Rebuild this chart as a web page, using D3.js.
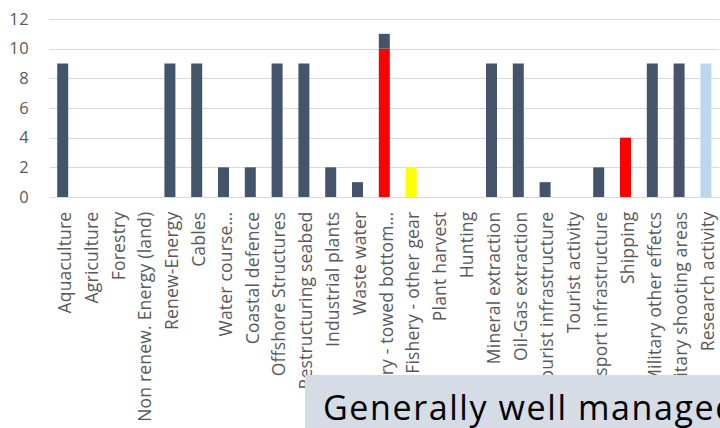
<!DOCTYPE html>
<html>
<head>
<meta charset="utf-8">
<script src="https://cdn.jsdelivr.net/npm/d3@7"></script>
<style>
  html, body { margin: 0; padding: 0; background: #fff; }
  svg { display: block; }
</style>
</head>
<body>
<svg id="chart" width="720" height="428"></svg>
<script>
// Pressure categories along the x axis
const categories = [
  "Aquaculture", "Agriculture", "Forestry", "Non renew. Energy (land)",
  "Renew-Energy", "Cables", "Water course…", "Coastal defence",
  "Offshore Structures", "Restructuring seabed", "Industrial plants",
  "Waste water", "Fishery - towed bottom…", "Fishery - other gear",
  "Plant harvest", "Hunting", "Mineral extraction", "Oil-Gas extraction",
  "Tourist infrastructure", "Tourist activity", "Transport infrastructure",
  "Shipping", "Military other effetcs", "Military shooting areas",
  "Research activity"
];

// Stacked series, bottom to top
const redValues    = [0,0,0,0,0,0,0,0,0,0,0,0,10,0,0,0,0,0,0,0,0,4,0,0,0];
const yellowValues = [0,0,0,0,0,0,0,0,0,0,0,0,0,2,0,0,0,0,0,0,0,0,0,0,0];
const lightValues  = [0,0,0,0,0,0,0,0,0,0,0,0,0,0,0,0,0,0,0,0,0,0,0,0,9];
const darkValues   = [9,0,0,0,9,9,2,2,9,9,2,1,1,0,0,0,9,9,1,0,2,0,9,9,0];

const yTicks = [0, 2, 4, 6, 8, 10, 12];
const boxText = "Generally well managed";

const seriesKeys = ["red", "yellow", "light", "dark"];
const seriesColor = { red: "#FF0000", yellow: "#FFFF00", light: "#BDD7EE", dark: "#44546A" };

const rows = categories.map((c, i) => ({
  cat: c, red: redValues[i], yellow: yellowValues[i], light: lightValues[i], dark: darkValues[i]
}));

const svg = d3.select("#chart");
const plotLeft = 49.3, plotRight = 719.3, plotTop = 19, plotBottom = 197;

const x = d3.scaleBand().domain(categories).range([plotLeft, plotRight]).paddingInner(0.59).paddingOuter(0.295);
const y = d3.scaleLinear().domain([0, 12]).range([plotBottom, plotTop]);

// Gridlines
svg.append("g").selectAll("line").data(yTicks).join("line")
  .attr("x1", plotLeft).attr("x2", plotRight)
  .attr("y1", d => Math.round(y(d)) + 0.5).attr("y2", d => Math.round(y(d)) + 0.5)
  .attr("stroke", "#D9D9D9").attr("stroke-width", 1);

// Y axis labels
const yAxis = d3.axisLeft(y).tickValues(yTicks).tickSize(0).tickPadding(0);
const gy = svg.append("g").attr("transform", `translate(${plotLeft - 20},0)`).call(yAxis);
gy.select(".domain").remove();
gy.selectAll("text")
  .attr("font-family", "Open Sans").attr("font-size", 16.5).attr("fill", "#595959")
  .attr("letter-spacing", "0.6px");

// Bars
const stacked = d3.stack().keys(seriesKeys)(rows);
svg.append("g").selectAll("g").data(stacked).join("g")
  .attr("fill", d => seriesColor[d.key])
  .selectAll("rect").data(d => d.filter(p => p[1] > p[0])).join("rect")
  .attr("x", d => x(d.data.cat))
  .attr("width", x.bandwidth())
  .attr("y", d => y(d[1]))
  .attr("height", d => y(d[0]) - y(d[1]));

// X axis labels, rotated to read bottom-up
const xAxis = d3.axisBottom(x).tickSize(0).tickPadding(0);
const gx = svg.append("g").attr("transform", `translate(0,${plotBottom})`).call(xAxis);
gx.select(".domain").remove();
gx.selectAll("text")
  .attr("font-family", "Open Sans").attr("font-size", 17.5).attr("fill", "#595959")
  .attr("letter-spacing", "0.2px")
  .attr("text-anchor", "end")
  .attr("dy", null)
  .attr("transform", "translate(8.2,14.6) rotate(-90)");

// Caption box
svg.append("rect").attr("x", 305).attr("y", 375).attr("width", 415).attr("height", 53)
  .attr("fill", "#D6DCE5");
svg.append("text").attr("x", 323).attr("y", 420)
  .attr("font-family", "Open Sans").attr("font-size", 34).attr("fill", "#000")
  .attr("letter-spacing", "1.6px")
  .text(boxText);
</script>
</body>
</html>
